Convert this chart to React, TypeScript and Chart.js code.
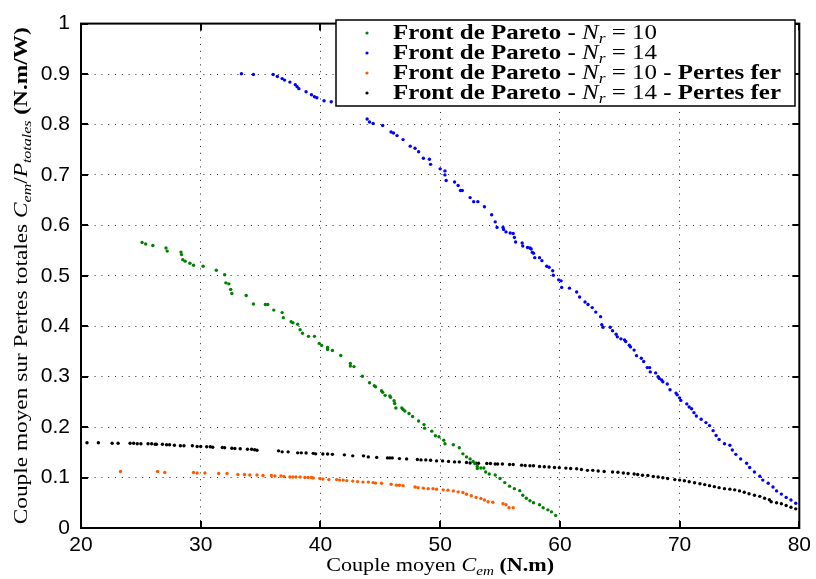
import React, { useEffect, useRef } from 'react';
import { Chart, registerables } from 'chart.js';

Chart.register(...registerables);

// ---- Data ----
const front10: [number, number][] = [
  [25.1, 0.566], [25.4, 0.563], [26.0, 0.56], [27.1, 0.555], [27.2, 0.549], [28.35, 0.547], [28.4, 0.542],
  [28.5, 0.532], [28.7, 0.529], [29.1, 0.525], [29.4, 0.521], [30.2, 0.519], [31.3, 0.511], [32.0, 0.502],
  [32.1, 0.486], [32.35, 0.484], [32.5, 0.473], [32.6, 0.465], [33.8, 0.461], [34.4, 0.444], [35.4, 0.443],
  [35.6, 0.443], [36.1, 0.432], [36.8, 0.427], [36.9, 0.417], [37.55, 0.409], [37.7, 0.407], [38.1, 0.404],
  [38.3, 0.393], [38.5, 0.386], [39.0, 0.38], [39.5, 0.38], [39.9, 0.366], [40.1, 0.362], [40.6, 0.358],
  [40.6, 0.354], [41.0, 0.352], [41.7, 0.342], [42.5, 0.326], [42.5, 0.321], [42.8, 0.32], [43.5, 0.301],
  [44.1, 0.288], [44.5, 0.282], [44.6, 0.28], [45.1, 0.272], [45.2, 0.269], [45.4, 0.263], [45.8, 0.262],
  [45.85, 0.259], [46.15, 0.2525], [46.2, 0.2467], [46.3, 0.238], [46.8, 0.238], [46.9, 0.235], [47.05, 0.232],
  [47.4, 0.227], [47.7, 0.221], [48.2, 0.212], [48.65, 0.205], [48.7, 0.198], [49.3, 0.192], [49.6, 0.183],
  [49.9, 0.181], [50.3, 0.174], [50.4, 0.167], [51.1, 0.165], [51.6, 0.159], [51.9, 0.147], [52.2, 0.141],
  [52.5, 0.137], [52.75, 0.132], [52.9, 0.128], [53.1, 0.122], [53.1, 0.118], [53.4, 0.119], [53.65, 0.119],
  [53.8, 0.111], [54.1, 0.107], [54.6, 0.105], [55.0, 0.098], [55.4, 0.09], [55.8, 0.083], [56.2, 0.078],
  [56.65, 0.074], [56.9, 0.065], [57.2, 0.059], [57.5, 0.054], [57.8, 0.05], [58.3, 0.046], [58.6, 0.04],
  [59.0, 0.036], [59.3, 0.032], [59.65, 0.025],
];

const front14: [number, number][] = [
  [33.4, 0.9006], [34.4, 0.899], [36.05, 0.899], [36.4, 0.895], [36.8, 0.891], [37.0, 0.888], [37.45, 0.884],
  [37.9, 0.879], [38.05, 0.875], [38.2, 0.871], [38.8, 0.865], [39.25, 0.859], [39.5, 0.855], [39.7, 0.853],
  [40.3, 0.847], [40.9, 0.845], [43.9, 0.811], [44.1, 0.805], [44.4, 0.802], [45.2, 0.798], [45.9, 0.785],
  [46.1, 0.783], [46.4, 0.778], [46.9, 0.77], [47.5, 0.757], [47.9, 0.753], [48.2, 0.746], [48.6, 0.733],
  [49.1, 0.731], [49.2, 0.721], [50.0, 0.712], [50.4, 0.708], [50.4, 0.7], [50.5, 0.689], [51.2, 0.686],
  [51.5, 0.679], [51.7, 0.669], [51.85, 0.669], [52.5, 0.655], [52.8, 0.647], [53.15, 0.647], [53.7, 0.637],
  [54.3, 0.621], [54.6, 0.607], [54.75, 0.596], [55.25, 0.596], [55.3, 0.592], [55.5, 0.587], [55.85, 0.585],
  [56.1, 0.584], [56.2, 0.576], [56.3, 0.567], [56.85, 0.565], [56.9, 0.559], [57.3, 0.556], [57.5, 0.555],
  [57.6, 0.553], [57.7, 0.5465], [57.8, 0.5446], [57.9, 0.536], [58.3, 0.536], [58.5, 0.53], [58.9, 0.519],
  [59.1, 0.517], [59.4, 0.51], [59.45, 0.501], [59.9, 0.492], [60.1, 0.49], [60.15, 0.477], [60.8, 0.4755],
  [61.4, 0.468], [61.65, 0.458], [62.1, 0.448], [62.35, 0.443], [62.7, 0.437], [63.0, 0.428], [63.4, 0.419],
  [63.5, 0.403], [63.6, 0.398], [64.2, 0.398], [64.4, 0.391], [64.7, 0.384], [64.8, 0.379], [65.1, 0.375],
  [65.4, 0.373], [65.5, 0.3696], [65.8, 0.3624], [65.9, 0.359], [66.2, 0.3527], [66.4, 0.3417], [66.8, 0.3366],
  [67.0, 0.33], [67.3, 0.318], [67.5, 0.318], [67.55, 0.3095], [68.0, 0.3075], [68.2, 0.2998], [68.3, 0.2965],
  [68.5, 0.2933], [68.6, 0.29], [68.97, 0.2855], [69.2, 0.274], [69.7, 0.2674], [69.8, 0.264], [70.0, 0.258],
  [70.1, 0.253], [70.6, 0.246], [70.8, 0.24], [71.0, 0.2364], [71.2, 0.2287], [71.4, 0.222], [71.8, 0.2157],
  [72.2, 0.209], [72.5, 0.203], [72.8, 0.193], [73.05, 0.1835], [73.3, 0.1757], [73.75, 0.167], [74.2, 0.164],
  [74.4, 0.1545], [74.7, 0.146], [75.1, 0.137], [75.6, 0.1285], [75.85, 0.12], [76.25, 0.111], [76.7, 0.1027],
  [76.95, 0.095], [77.4, 0.0886], [77.8, 0.0814], [78.1, 0.0736], [78.5, 0.0672], [78.9, 0.0607],
  [79.3, 0.0556], [79.7, 0.049],
];

const front10Fer: [number, number][] = [
  [23.3, 0.112], [26.4, 0.112], [27.0, 0.11], [29.4, 0.11], [29.7, 0.109], [30.35, 0.109], [31.5, 0.108],
  [32.2, 0.108], [33.1, 0.106], [33.65, 0.106], [34.1, 0.105], [34.7, 0.105], [35.2, 0.104], [35.9, 0.104],
  [36.2, 0.103], [36.7, 0.103], [36.95, 0.102], [37.45, 0.101], [37.7, 0.101], [37.95, 0.101], [38.3, 0.101],
  [38.7, 0.1], [38.97, 0.1], [39.25, 0.1], [39.4, 0.099], [39.95, 0.098], [40.2, 0.097], [40.7, 0.096],
  [41.35, 0.096], [41.6, 0.095], [41.9, 0.095], [42.2, 0.094], [42.7, 0.093], [43.1, 0.092], [43.55, 0.091],
  [44.0, 0.091], [44.4, 0.09], [44.6, 0.089], [45.1, 0.0886], [45.9, 0.0866], [46.35, 0.085], [46.6, 0.0847],
  [46.9, 0.084], [47.9, 0.0814], [48.15, 0.08], [48.6, 0.079], [49.0, 0.078], [49.4, 0.078], [49.7, 0.077],
  [50.25, 0.0756], [50.65, 0.075], [51.1, 0.0736], [51.5, 0.0717], [51.9, 0.0704], [52.2, 0.067], [52.6, 0.064],
  [53.0, 0.0607], [53.4, 0.0587], [53.7, 0.0556], [54.0, 0.052], [54.4, 0.051], [55.25, 0.048], [55.5, 0.046],
  [55.75, 0.04], [56.1, 0.04],
];

const front14Fer: [number, number][] = [
  [20.5, 0.169], [21.45, 0.169], [22.6, 0.168], [23.1, 0.168], [24.1, 0.168], [24.4, 0.168], [24.7, 0.167],
  [25.0, 0.167], [25.6, 0.167], [25.9, 0.167], [26.2, 0.166], [26.3, 0.166], [26.8, 0.166], [27.15, 0.165],
  [27.4, 0.165], [27.8, 0.164], [28.3, 0.163], [28.6, 0.163], [29.3, 0.163], [29.7, 0.1615], [30.0, 0.1615],
  [30.5, 0.161], [30.8, 0.161], [31.0, 0.16], [31.8, 0.1595], [32.0, 0.159], [32.6, 0.158], [32.85, 0.1576],
  [33.3, 0.157], [33.9, 0.156], [34.25, 0.156], [34.5, 0.155], [34.7, 0.154], [36.5, 0.153], [36.8, 0.151],
  [37.3, 0.151], [38.1, 0.149], [38.4, 0.149], [38.8, 0.1486], [39.4, 0.148], [39.6, 0.147], [40.2, 0.1467],
  [40.6, 0.1467], [41.0, 0.146], [42.0, 0.145], [42.7, 0.143], [43.6, 0.143], [44.0, 0.141], [44.7, 0.14],
  [45.6, 0.139], [45.8, 0.139], [46.0, 0.139], [46.6, 0.1376], [47.2, 0.137], [48.1, 0.1357], [48.4, 0.135],
  [48.8, 0.135], [49.2, 0.1343], [49.7, 0.133], [50.2, 0.133], [50.7, 0.132], [51.2, 0.131], [51.6, 0.131],
  [52.2, 0.13], [52.5, 0.129], [53.0, 0.1285], [53.2, 0.1285], [53.9, 0.128], [54.2, 0.128], [54.6, 0.127],
  [54.8, 0.127], [55.2, 0.127], [55.8, 0.126], [56.1, 0.126], [56.8, 0.1246], [57.1, 0.124], [57.5, 0.1234],
  [57.8, 0.1234], [58.3, 0.122], [58.7, 0.1215], [59.1, 0.1208], [59.55, 0.12], [59.95, 0.1196], [60.5, 0.1188],
  [60.9, 0.118], [61.4, 0.1176], [61.8, 0.116], [62.3, 0.1143], [62.75, 0.1143], [63.2, 0.113], [63.7, 0.112],
  [64.4, 0.111], [64.85, 0.1105], [65.3, 0.109], [65.7, 0.108], [66.2, 0.107], [66.5, 0.106], [66.9, 0.1047],
  [67.35, 0.104], [67.8, 0.102], [68.2, 0.101], [68.6, 0.0995], [69.0, 0.098], [69.6, 0.096], [70.0, 0.095],
  [70.4, 0.0937], [70.8, 0.0917], [71.25, 0.0898], [71.7, 0.0878], [72.1, 0.086], [72.5, 0.084], [72.9, 0.082],
  [73.3, 0.08], [73.75, 0.078], [74.2, 0.077], [74.6, 0.0756], [75.0, 0.0736], [75.4, 0.071], [75.8, 0.068],
  [76.25, 0.065], [76.7, 0.0627], [77.1, 0.059], [77.5, 0.056], [77.65, 0.052], [78.1, 0.05], [78.5, 0.048],
  [78.9, 0.0446], [79.3, 0.041], [79.7, 0.038],
];

const xTickValues = [20, 30, 40, 50, 60, 70, 80];
const xTickLabels = ['20', '30', '40', '50', '60', '70', '80'];
const yTickValues = [0, 0.1, 0.2, 0.3, 0.4, 0.5, 0.6, 0.7, 0.8, 0.9, 1];
const yTickLabels = ['0', '0.1', '0.2', '0.3', '0.4', '0.5', '0.6', '0.7', '0.8', '0.9', '1'];

const legendNr = ['10', '14', '10', '14'];
const legendSuffix = ['', '', ' - Pertes fer', ' - Pertes fer'];
const legendPrefix = 'Front de Pareto - ';

const COLORS = ['#008000', '#0000ff', '#ff5a00', '#000000'];

const SERIF = '"Liberation Serif", "DejaVu Serif", serif';
const SANS = '"Liberation Sans", Arial, sans-serif';

type Seg = { text: string; font: string; dy?: number };

function measureSegs(ctx: CanvasRenderingContext2D, segs: Seg[]) {
  let w = 0;
  for (const s of segs) {
    ctx.font = s.font;
    w += ctx.measureText(s.text).width;
  }
  return w;
}

function drawSegs(ctx: CanvasRenderingContext2D, segs: Seg[], x: number, y: number, scale: number) {
  ctx.save();
  ctx.translate(x, y);
  ctx.scale(scale, 1);
  let cx = 0;
  ctx.textBaseline = 'alphabetic';
  ctx.textAlign = 'left';
  for (const s of segs) {
    ctx.font = s.font;
    ctx.fillText(s.text, cx, s.dy || 0);
    cx += ctx.measureText(s.text).width;
  }
  ctx.restore();
}

const decorPlugin = {
  id: 'decor',
  afterDraw(chart: any) {
    const ctx: CanvasRenderingContext2D = chart.ctx;
    const { left, right, top, bottom } = chart.chartArea;
    const xs = chart.scales.x;
    const ys = chart.scales.y;
    ctx.save();
    ctx.fillStyle = '#000';
    ctx.strokeStyle = '#000';

    // inner tick marks
    ctx.lineWidth = 2;
    const tl = 7;
    ctx.beginPath();
    for (const v of xTickValues) {
      const px = Math.round(xs.getPixelForValue(v));
      ctx.moveTo(px, bottom);
      ctx.lineTo(px, bottom - tl);
      ctx.moveTo(px, top);
      ctx.lineTo(px, top + tl);
    }
    for (const v of yTickValues) {
      const py = Math.round(ys.getPixelForValue(v));
      ctx.moveTo(left, py);
      ctx.lineTo(left + tl, py);
      ctx.moveTo(right, py);
      ctx.lineTo(right - tl, py);
    }
    ctx.stroke();

    // box
    ctx.lineWidth = 2;
    ctx.strokeRect(left, top, right - left, bottom - top);

    // x title
    const fs = 19;
    const xTitle: Seg[] = [
      { text: 'Couple moyen ', font: `${fs}px ${SERIF}` },
      { text: 'C', font: `italic ${fs}px ${SERIF}` },
      { text: 'em', font: `italic ${Math.round(fs * 0.7)}px ${SERIF}`, dy: 4 },
      { text: ' (N.m)', font: `bold ${fs}px ${SERIF}` },
    ];
    const xw = measureSegs(ctx, xTitle);
    const xTarget = 228;
    const xsc = xTarget / xw;
    drawSegs(ctx, xTitle, (left + right) / 2 - xTarget / 2, 571, xsc);

    // y title
    const yTitle: Seg[] = [
      { text: 'Couple moyen sur Pertes totales ', font: `${fs}px ${SERIF}` },
      { text: 'C', font: `italic ${fs}px ${SERIF}` },
      { text: 'em', font: `italic ${Math.round(fs * 0.7)}px ${SERIF}`, dy: 4 },
      { text: '/', font: `${fs}px ${SERIF}` },
      { text: 'P', font: `italic ${fs}px ${SERIF}` },
      { text: 'totales', font: `italic ${Math.round(fs * 0.7)}px ${SERIF}`, dy: 4 },
      { text: ' (N.m/W)', font: `bold ${fs}px ${SERIF}` },
    ];
    const yw = measureSegs(ctx, yTitle);
    const yTarget = 497;
    const ysc = yTarget / yw;
    ctx.save();
    ctx.translate(27, (top + bottom) / 2);
    ctx.rotate(-Math.PI / 2);
    drawSegs(ctx, yTitle, -yTarget / 2, 0, ysc);
    ctx.restore();

    // legend
    const lx0 = 336, ly0 = 20, lx1 = 795, ly1 = 106;
    ctx.fillStyle = '#fff';
    ctx.fillRect(lx0, ly0, lx1 - lx0, ly1 - ly0);
    ctx.lineWidth = 1.5;
    ctx.strokeStyle = '#000';
    ctx.strokeRect(lx0, ly0, lx1 - lx0, ly1 - ly0);
    const lfs = 20;
    const rows: Seg[][] = legendNr.map((n, i) => {
      const segs: Seg[] = [
        { text: legendPrefix, font: `bold ${lfs}px ${SERIF}` },
        { text: 'N', font: `italic ${lfs}px ${SERIF}` },
        { text: 'r', font: `italic ${Math.round(lfs * 0.7)}px ${SERIF}`, dy: 4 },
        { text: ' = ' + n, font: `${lfs}px ${SERIF}` },
      ];
      if (legendSuffix[i]) segs.push({ text: legendSuffix[i], font: `bold ${lfs}px ${SERIF}` });
      return segs;
    });
    const lsc = 264 / measureSegs(ctx, rows[0]);
    rows.forEach((segs, i) => {
      const base = 38.5 + i * 20;
      ctx.fillStyle = COLORS[i];
      ctx.beginPath();
      ctx.arc(367, base - 5.5, 1.6, 0, Math.PI * 2);
      ctx.fill();
      ctx.fillStyle = '#000';
      drawSegs(ctx, segs, 393, base, lsc);
    });

    ctx.restore();
  },
};

export default function App() {
  const ref = useRef<HTMLCanvasElement | null>(null);
  useEffect(() => {
    if (!ref.current) return;
    const mk = (label: string, pts: [number, number][], color: string) => ({
      label,
      data: pts.map(([x, y]) => ({ x, y })),
      backgroundColor: color,
      borderColor: color,
      pointRadius: 1.7,
      pointBorderWidth: 0,
      showLine: false,
    });
    const chart = new Chart(ref.current, {
      type: 'scatter',
      data: {
        datasets: [
          mk('Front de Pareto - Nr = 10', front10, COLORS[0]),
          mk('Front de Pareto - Nr = 14', front14, COLORS[1]),
          mk('Front de Pareto - Nr = 10 - Pertes fer', front10Fer, COLORS[2]),
          mk('Front de Pareto - Nr = 14 - Pertes fer', front14Fer, COLORS[3]),
        ],
      },
      options: {
        responsive: false,
        animation: false,
        devicePixelRatio: 1,
        layout: { padding: { top: 12, right: 16, left: 0, bottom: 0 } },
        plugins: { legend: { display: false }, tooltip: { enabled: false } },
        scales: {
          x: {
            type: 'linear',
            min: 20,
            max: 80,
            afterBuildTicks: (s: any) => {
              s.ticks = xTickValues.map((v) => ({ value: v }));
            },
            afterFit: (s: any) => {
              s.height = 51;
            },
            ticks: {
              color: '#000',
              font: { family: SANS, size: 21 },
              padding: 5,
              maxRotation: 0,
              autoSkip: false,
              callback: (v: any) => {
                const i = xTickValues.indexOf(Number(v));
                return i >= 0 ? xTickLabels[i] : '';
              },
            },
            grid: { color: 'rgba(0,0,0,0.85)', lineWidth: 1, drawTicks: false },
            border: { display: false, dash: [1, 5.8] },
          },
          y: {
            type: 'linear',
            min: 0,
            max: 1,
            afterBuildTicks: (s: any) => {
              s.ticks = yTickValues.map((v) => ({ value: v }));
            },
            afterFit: (s: any) => {
              s.width = 81;
            },
            ticks: {
              color: '#000',
              font: { family: SANS, size: 21 },
              padding: 11,
              autoSkip: false,
              callback: (v: any) => {
                const i = yTickValues.findIndex((t) => Math.abs(t - Number(v)) < 1e-9);
                return i >= 0 ? yTickLabels[i] : '';
              },
            },
            grid: { color: 'rgba(0,0,0,0.85)', lineWidth: 1, drawTicks: false },
            border: { display: false, dash: [1, 5.8] },
          },
        },
      },
      plugins: [decorPlugin],
    } as any);
    return () => chart.destroy();
  }, []);
  return (
    <div style={{ position: 'absolute', left: 0, top: 0, width: 816, height: 579, background: '#fff' }}>
      <canvas ref={ref} width={816} height={579} style={{ display: 'block', width: 816, height: 579 }} />
    </div>
  );
}
